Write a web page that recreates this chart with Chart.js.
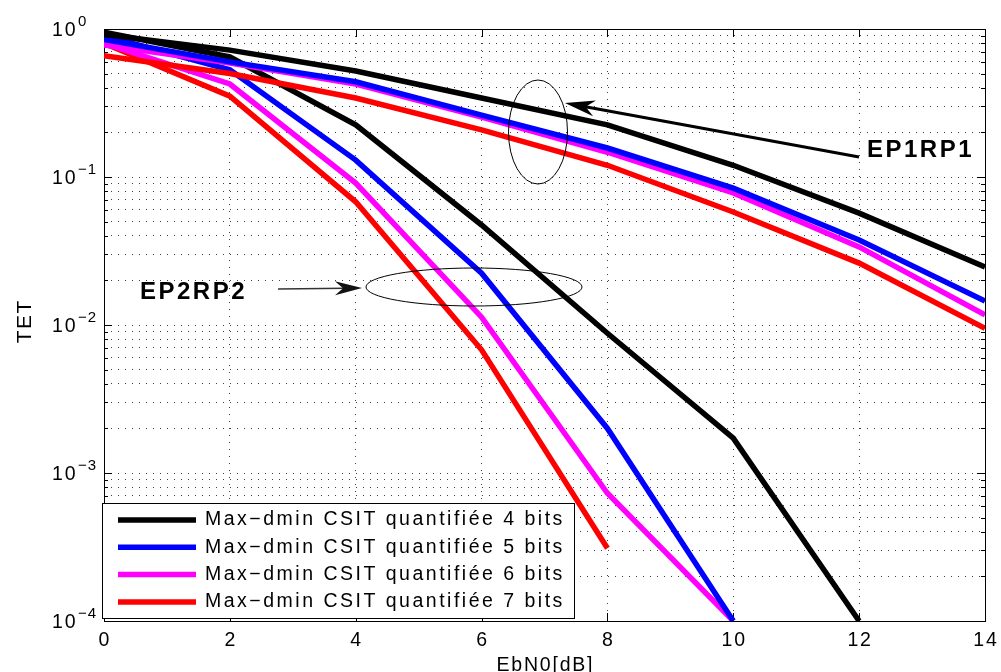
<!DOCTYPE html>
<html>
<head>
<meta charset="utf-8">
<script src="https://cdn.jsdelivr.net/npm/chart.js@4.4.1/dist/chart.umd.min.js"></script>
<style>
html, body { margin: 0; padding: 0; background: #fff; }
#graf { display: block; }
</style>
</head>
<body>
<canvas id="graf" width="1001" height="672"></canvas>
<script>
// DATOS -------------
const ebn0 = [0, 2, 4, 6, 8, 10, 12, 14];
const xTicks = [0, 2, 4, 6, 8, 10, 12, 14];
const yDecadas = [-4, -3, -2, -1, 0];
const nombres = [
    'Max\u2212dmin CSIT quantifiée 4 bits',
    'Max\u2212dmin CSIT quantifiée 5 bits',
    'Max\u2212dmin CSIT quantifiée 6 bits',
    'Max\u2212dmin CSIT quantifiée 7 bits'
];
const colores = ['#000000', '#0000ff', '#ff00ff', '#ff0000'];

// grupo EP1RP1
const ep1_4bits = [0.92, 0.72, 0.52, 0.342, 0.225, 0.12, 0.057, 0.0247];
const ep1_5bits = [0.85, 0.60, 0.44, 0.262, 0.157, 0.084, 0.0375, 0.0145];
const ep1_6bits = [0.78, 0.59, 0.425, 0.254, 0.147, 0.078, 0.0337, 0.0117];
const ep1_7bits = [0.66, 0.50, 0.342, 0.208, 0.12, 0.058, 0.0262, 0.0095];

// grupo EP2RP2
const ep2_4bits = [0.95, 0.647, 0.225, 0.0474, 0.0088, 0.00172, 0.0001];
const ep2_5bits = [0.90, 0.53, 0.13, 0.0224, 0.002, 0.0001];
const ep2_6bits = [0.80, 0.425, 0.091, 0.0113, 0.00073, 0.0001];
const ep2_7bits = [0.80, 0.352, 0.068, 0.0068, 0.00031];

const textos = ['EP1RP1', 'EP2RP2', 'TET', 'EbN0[dB]'];

const fuente = '"Liberation Sans", Arial, sans-serif';

function puntos(valores) {
    return valores.map((v, i) => ({ x: ebn0[i], y: v }));
}

function serie(valores, n) {
    return {
        label: nombres[n],
        data: puntos(valores),
        borderColor: colores[n],
        backgroundColor: colores[n],
        borderWidth: 5.5,
        pointRadius: 0,
        tension: 0,
        fill: false
    };
}

// rejilla menor del eje log (1..9 por decada)
var rejillaY = [];
yDecadas.forEach(e => {
    if (e == 0) { rejillaY.push(1); return; }
    for (let m = 1; m <= 9; m++) rejillaY.push(m * Math.pow(10, e));
});

function texto(ctx, txt, x, y, font, esp, centro) {
    ctx.font = font;
    ctx.letterSpacing = esp + 'px';
    var w = ctx.measureText(txt).width - esp;
    ctx.textAlign = 'left';
    ctx.fillText(txt, centro ? x - w / 2 : x, y);
    ctx.letterSpacing = '0px';
    return w;
}

function flecha(ctx, x0, y0, x1, y1, ancho, largo, medio, grosor) {
    var dx = x1 - x0, dy = y1 - y0;
    var l = Math.sqrt(dx * dx + dy * dy);
    var ux = dx / l, uy = dy / l;
    var bx = x1 - ux * largo, by = y1 - uy * largo;
    ctx.lineWidth = grosor;
    ctx.beginPath();
    ctx.moveTo(x0, y0);
    ctx.lineTo(x1 - ux * largo * 0.6, y1 - uy * largo * 0.6);
    ctx.stroke();
    ctx.beginPath();
    ctx.moveTo(x1, y1);
    ctx.lineTo(bx - uy * ancho, by + ux * ancho);
    ctx.lineTo(x1 - ux * largo * medio, y1 - uy * largo * medio);
    ctx.lineTo(bx + uy * ancho, by - ux * ancho);
    ctx.closePath();
    ctx.fill();
}

const estiloMatlab = {
    id: 'estiloMatlab',
    beforeDatasetsDraw(chart) {
        const ctx = chart.ctx;
        const a = chart.chartArea;
        const xs = chart.scales.x, ys = chart.scales.y;
        ctx.save();
        ctx.strokeStyle = '#000';
        ctx.lineWidth = 1;
        ctx.beginPath();
        xTicks.forEach(v => {
            var px = Math.round(xs.getPixelForValue(v)) + 0.5;
            ctx.moveTo(px, a.bottom); ctx.lineTo(px, a.bottom - 8);
            ctx.moveTo(px, a.top); ctx.lineTo(px, a.top + 8);
        });
        rejillaY.forEach(v => {
            var py = Math.round(ys.getPixelForValue(v)) + 0.5;
            var mayor = Math.abs(Math.log10(v) - Math.round(Math.log10(v))) < 1e-9;
            var t = mayor ? 8 : 4;
            ctx.moveTo(a.left, py); ctx.lineTo(a.left + t, py);
            ctx.moveTo(a.right, py); ctx.lineTo(a.right - t, py);
        });
        ctx.stroke();
        ctx.strokeRect(Math.round(a.left) + 0.5, Math.round(a.top) + 0.5,
            Math.round(a.right - a.left), Math.round(a.bottom - a.top));
        ctx.restore();
    },
    afterDraw(chart) {
        const ctx = chart.ctx;
        const a = chart.chartArea;
        const xs = chart.scales.x, ys = chart.scales.y;
        ctx.save();
        ctx.fillStyle = '#000';
        ctx.textBaseline = 'alphabetic';

        // etiquetas eje x
        xTicks.forEach(v => {
            texto(ctx, String(v), xs.getPixelForValue(v), 646, '19.5px ' + fuente, 1.8, true);
        });
        // etiquetas eje y 10^e
        yDecadas.forEach(e => {
            var py = ys.getPixelForValue(Math.pow(10, e));
            texto(ctx, '10', 52, py + 7, '19.5px ' + fuente, 1.8, false);
            var ex = e == 0 ? '0' : '\u2212' + (-e);
            texto(ctx, ex, 78, py - 3, '15px ' + fuente, 1, false);
        });
        // titulos
        texto(ctx, textos[3], (a.left + a.right) / 2, 671, '19.5px ' + fuente, 1.8, true);
        ctx.save();
        ctx.translate(31, (a.top + a.bottom) / 2 - 3);
        ctx.rotate(-Math.PI / 2);
        texto(ctx, textos[2], 0, 0, '21px ' + fuente, 1.5, true);
        ctx.restore();

        // leyenda
        ctx.fillStyle = '#fff';
        ctx.fillRect(102.5, 503.5, 472, 115);
        ctx.strokeStyle = '#000';
        ctx.lineWidth = 1;
        ctx.strokeRect(102.5, 503.5, 472, 115);
        ctx.textBaseline = 'middle';
        for (let i = 0; i < 4; i++) {
            var ds = chart.data.datasets[i];
            var fy = 520 + i * 27.3;
            ctx.strokeStyle = ds.borderColor;
            ctx.lineWidth = 5.5;
            ctx.beginPath();
            ctx.moveTo(118, fy); ctx.lineTo(196, fy);
            ctx.stroke();
            ctx.fillStyle = '#000';
            texto(ctx, ds.label, 205, fy, '19.5px ' + fuente, 2.5, false);
        }

        // anotaciones
        ctx.textBaseline = 'alphabetic';
        ctx.fillStyle = '#000';
        ctx.strokeStyle = '#000';
        texto(ctx, textos[0], 867, 157, 'bold 24px ' + fuente, 2.5, false);
        texto(ctx, textos[1], 140, 299, 'bold 24px ' + fuente, 2.5, false);

        ctx.lineWidth = 1;
        ctx.beginPath();
        ctx.ellipse(538, 132, 29.5, 52, 0, 0, 2 * Math.PI);
        ctx.stroke();
        ctx.beginPath();
        ctx.ellipse(474, 287, 108, 19, 0, 0, 2 * Math.PI);
        ctx.stroke();

        flecha(ctx, 859, 157, 565, 103, 8, 30, 0.7, 3);
        ctx.fillStyle = '#111';
        ctx.strokeStyle = '#333';
        flecha(ctx, 278, 289, 362, 288, 7, 27, 0.7, 1.5);
        ctx.restore();
    }
};

const datos = {
    datasets: [
        serie(ep1_4bits, 0), serie(ep1_5bits, 1), serie(ep1_6bits, 2), serie(ep1_7bits, 3),
        serie(ep2_4bits, 0), serie(ep2_5bits, 1), serie(ep2_6bits, 2), serie(ep2_7bits, 3)
    ]
};

const config = {
    type: 'line',
    data: datos,
    plugins: [estiloMatlab],
    options: {
        responsive: false,
        animation: false,
        devicePixelRatio: 1,
        layout: { padding: { left: 0, top: 29, right: 16, bottom: 0 } },
        plugins: { legend: { display: false }, tooltip: { enabled: false } },
        scales: {
            x: {
                type: 'linear', min: 0, max: 14,
                ticks: { stepSize: 2, display: false },
                afterBuildTicks: s => { s.ticks = xTicks.map(v => ({ value: v })); },
                afterFit: s => { s.height = 51; },
                grid: { color: 'rgba(0,0,0,0.75)', lineWidth: 1, drawTicks: false, tickLength: 0 },
                border: { display: false, dash: [1, 6] }
            },
            y: {
                type: 'logarithmic', min: 1e-4, max: 1,
                ticks: { display: false },
                afterBuildTicks: s => { s.ticks = rejillaY.map(v => ({ value: v })); },
                afterFit: s => { s.width = 104; },
                grid: { color: 'rgba(0,0,0,0.75)', lineWidth: 1, drawTicks: false, tickLength: 0 },
                border: { display: false, dash: [1, 6] }
            }
        }
    }
};

const grafico = new Chart(document.getElementById('graf'), config);
</script>
</body>
</html>
